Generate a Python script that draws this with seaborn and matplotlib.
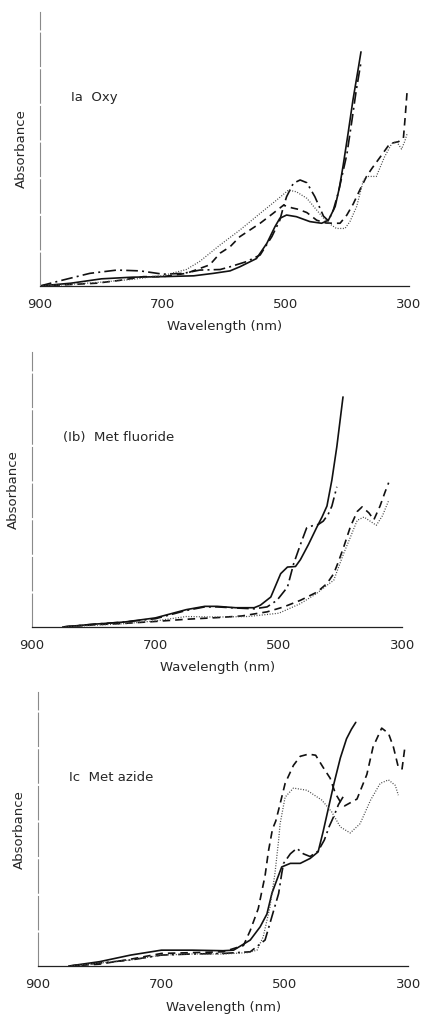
import matplotlib
matplotlib.use("Agg")
import matplotlib.pyplot as plt
import seaborn as sns

# Panel Ia Oxy
oxy_solid_wl = [900, 850, 800, 750, 700, 650, 618, 591, 575, 548, 531, 518, 510, 499, 483, 461, 442, 431,
                420, 413, 407, 399, 391, 382, 378]
oxy_solid_a = [0, 0.01, 0.026, 0.032, 0.034, 0.037, 0.046, 0.055, 0.07, 0.10, 0.156, 0.216, 0.247, 0.259,
               0.253, 0.235, 0.229, 0.24, 0.29, 0.36, 0.44, 0.557, 0.68, 0.80, 0.855]
oxy_dashdot_wl = [900, 862, 819, 775, 737, 700, 667, 640, 607, 591, 564, 542, 523, 510, 504, 499, 488, 477,
                  466, 453, 439, 431, 423, 415, 409, 401, 393, 386, 378.5]
oxy_dashdot_a = [0, 0.022, 0.046, 0.058, 0.055, 0.043, 0.046, 0.058, 0.06, 0.07, 0.089, 0.113, 0.18, 0.24,
                 0.29, 0.326, 0.375, 0.387, 0.377, 0.326, 0.255, 0.238, 0.277, 0.34, 0.40, 0.48, 0.60, 0.71, 0.81]
oxy_dashed_wl = [900, 862, 808, 765, 732, 700, 662, 624, 607, 591, 575, 542, 521, 504, 490, 480, 466, 450,
                 435, 423, 412, 401, 390.5, 380, 369, 360, 347, 331, 317, 309, 306, 303]
oxy_dashed_a = [0, 0.004, 0.01, 0.022, 0.034, 0.034, 0.046, 0.077, 0.12, 0.143, 0.18, 0.229, 0.265, 0.295,
                0.285, 0.28, 0.268, 0.24, 0.23, 0.229, 0.229, 0.259, 0.30, 0.35, 0.40, 0.43, 0.47, 0.52,
                0.527, 0.54, 0.62, 0.71]
oxy_dotted_wl = [900, 850, 800, 750, 700, 662, 640, 607, 575, 542, 515, 496, 483, 466, 450, 434, 418, 404,
                 396, 385, 374, 367, 353, 340, 328, 320, 312, 306.5, 303]
oxy_dotted_a = [0, 0.006, 0.014, 0.024, 0.038, 0.06, 0.09, 0.15, 0.204, 0.265, 0.314, 0.35, 0.344, 0.32,
                0.277, 0.235, 0.21, 0.21, 0.235, 0.29, 0.387, 0.40, 0.40, 0.47, 0.52, 0.527, 0.50, 0.53, 0.556]

# Panel Ib Met fluoride
flu_solid_wl = [850, 800, 750, 700, 650, 620, 600, 570, 540, 530, 513, 497, 486, 473, 465, 452, 438, 430,
                422, 414, 406, 396]
flu_solid_a = [0, 0.01, 0.018, 0.033, 0.063, 0.075, 0.075, 0.07, 0.07, 0.079, 0.109, 0.194, 0.218, 0.22,
               0.245, 0.30, 0.365, 0.40, 0.44, 0.535, 0.656, 0.837]
flu_dashdot_wl = [850, 800, 750, 700, 650, 620, 600, 570, 540, 519, 503, 486, 476, 465, 455, 446, 436, 428,
                  420, 414, 406]
flu_dashdot_a = [0, 0.01, 0.018, 0.03, 0.06, 0.073, 0.073, 0.069, 0.066, 0.073, 0.097, 0.145, 0.23, 0.30,
                 0.36, 0.368, 0.373, 0.385, 0.41, 0.44, 0.51]
flu_dashed_wl = [850, 800, 750, 700, 650, 600, 560, 519, 492, 465, 438, 422, 411, 403, 395, 384, 373, 365,
                 354, 346, 336, 328, 322]
flu_dashed_a = [0, 0.008, 0.013, 0.02, 0.028, 0.034, 0.04, 0.055, 0.073, 0.097, 0.127, 0.158, 0.194, 0.24,
                0.29, 0.365, 0.42, 0.437, 0.415, 0.39, 0.44, 0.49, 0.525]
flu_dotted_wl = [850, 800, 750, 700, 650, 600, 550, 500, 465, 440, 420, 411, 395, 384, 373, 362, 352, 342,
                 332, 322]
flu_dotted_a = [0, 0.006, 0.012, 0.022, 0.038, 0.036, 0.038, 0.05, 0.085, 0.12, 0.155, 0.17, 0.267, 0.327,
                0.388, 0.40, 0.385, 0.37, 0.405, 0.46]

# Panel Ic Met azide
azi_solid_wl = [850, 800, 750, 700, 650, 600, 583, 556, 540, 529, 521, 513, 505, 491, 475, 459, 446, 438,
                430, 420, 410, 400, 392, 385]
azi_solid_a = [0, 0.016, 0.04, 0.058, 0.058, 0.056, 0.058, 0.095, 0.143, 0.19, 0.265, 0.314, 0.362, 0.375,
               0.375, 0.393, 0.417, 0.49, 0.57, 0.67, 0.76, 0.83, 0.865, 0.89]
azi_dashdot_wl = [850, 750, 700, 650, 600, 556, 532, 521, 510, 505, 502, 491, 480.5, 470, 459, 446, 436,
                  428, 420, 413, 405]
azi_dashdot_a = [0, 0.022, 0.04, 0.044, 0.046, 0.052, 0.095, 0.18, 0.265, 0.338, 0.375, 0.41, 0.43, 0.41,
                 0.40, 0.42, 0.46, 0.51, 0.55, 0.59, 0.62]
azi_dashed_wl = [850, 800, 750, 700, 650, 600, 567, 556, 543, 532, 526.5, 520, 514.6, 509, 499.5, 486, 475,
                 461.7, 450, 438, 426.5, 418, 410, 403, 395, 383, 367, 357, 343, 332, 324, 316, 310, 305]
azi_dashed_a = [0, 0.007, 0.025, 0.046, 0.049, 0.052, 0.075, 0.13, 0.21, 0.33, 0.42, 0.50, 0.53, 0.58,
                0.667, 0.733, 0.766, 0.774, 0.77, 0.726, 0.686, 0.63, 0.60, 0.585, 0.595, 0.61, 0.70, 0.80,
                0.869, 0.85, 0.80, 0.726, 0.72, 0.806]
azi_dotted_wl = [850, 750, 700, 650, 600, 560, 545, 535, 524, 516, 510, 507.6, 499.5, 486, 464, 440, 424,
                 410, 394, 378, 361, 345.5, 332, 321, 316]
azi_dotted_a = [0, 0.022, 0.04, 0.044, 0.044, 0.049, 0.058, 0.107, 0.216, 0.338, 0.46, 0.52, 0.617, 0.65,
                0.642, 0.606, 0.563, 0.508, 0.486, 0.52, 0.606, 0.667, 0.68, 0.66, 0.624]

panel_titles = ["Ia  Oxy", "(Ib)  Met fluoride", "Ic  Met azide"]
tick_major = [900, 700, 500, 300]
tick_minor = [800, 600, 400]

panels = [
    [(oxy_solid_wl, oxy_solid_a), (oxy_dashdot_wl, oxy_dashdot_a),
     (oxy_dashed_wl, oxy_dashed_a), (oxy_dotted_wl, oxy_dotted_a)],
    [(flu_solid_wl, flu_solid_a), (flu_dashdot_wl, flu_dashdot_a),
     (flu_dashed_wl, flu_dashed_a), (flu_dotted_wl, flu_dotted_a)],
    [(azi_solid_wl, azi_solid_a), (azi_dashdot_wl, azi_dashdot_a),
     (azi_dashed_wl, azi_dashed_a), (azi_dotted_wl, azi_dotted_a)],
]

# solid, dash-dot, dashed, dotted
line_styles = [
    dict(color="#111111", lw=1.2, linestyle="-"),
    dict(color="#111111", lw=1.2, linestyle=(0, (7, 2.5, 1.2, 2.5))),
    dict(color="#111111", lw=1.2, linestyle=(0, (4.5, 3))),
    dict(color="#444444", lw=0.9, linestyle=(0, (0.8, 1.3))),
]

sns.set_style("white")
plt.rcParams["font.family"] = ["DejaVu Sans"]

fig = plt.figure(figsize=(4.27, 10.14), dpi=100)
boxes = [
    [0.0937, 0.718, 0.864, 0.270],
    [0.0750, 0.3817, 0.867, 0.271],
    [0.0890, 0.0473, 0.867, 0.270],
]

for box, series, title in zip(boxes, panels, panel_titles):
    ax = fig.add_axes(box)
    for (wl, a), st in zip(series, line_styles):
        sns.lineplot(x=wl, y=a, ax=ax, sort=False, estimator=None, **st)

    ax.set_xlim(900, 300)
    ax.set_ylim(0, 1)
    ax.set_xticks(tick_major)
    ax.set_xticks(tick_minor, minor=True)
    ax.set_xticklabels([str(t) for t in tick_major], fontsize=9.5)
    ax.tick_params(axis="x", which="both", direction="out", length=4.5, width=0.8,
                   color="#222222", pad=4)
    ax.set_yticks([])

    for side in ["top", "right"]:
        ax.spines[side].set_visible(False)
    ax.spines["bottom"].set_color("#222222")
    ax.spines["bottom"].set_linewidth(0.9)
    # the scanned y axis is a faint, broken grey line
    ax.spines["left"].set_color("#8a8a8a")
    ax.spines["left"].set_linewidth(0.8)
    ax.spines["left"].set_linestyle((0, (30, 3)))

    ax.set_xlabel("Wavelength (nm)", fontsize=9.5, labelpad=7)
    ax.set_ylabel("Absorbance", fontsize=9.5, labelpad=9)
    ax.text(0.084, 0.688, title, transform=ax.transAxes, fontsize=9.5, va="center", ha="left")

fig.savefig("out.png", dpi=100)
